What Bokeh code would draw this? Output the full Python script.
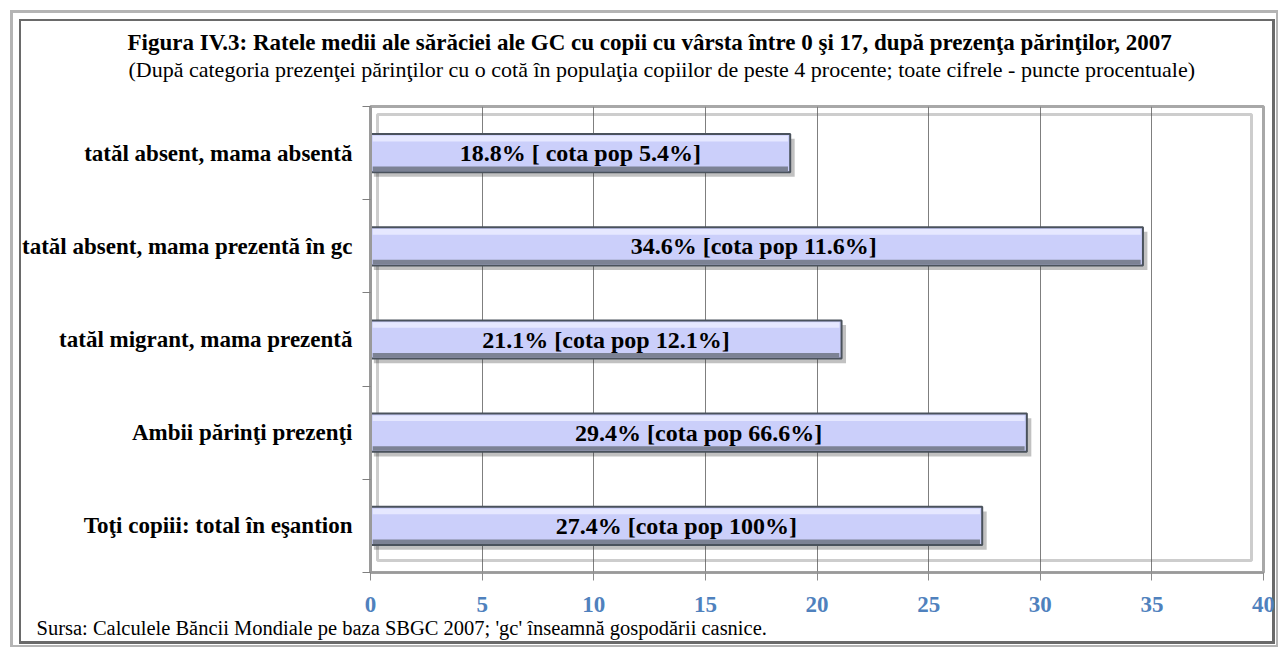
from bokeh.plotting import figure
from bokeh.models import FixedTicker, BoxAnnotation, ColumnDataSource, Title
from bokeh.embed import file_html
from bokeh.resources import INLINE
from bokeh.core.properties import value

# ---------------- data ----------------
categories = [
    "tatăl absent, mama absentă",
    "tatăl absent, mama prezentă în gc",
    "tatăl migrant, mama prezentă",
    "Ambii părinţi prezenţi",
    "Toţi copiii: total în eşantion",
]
rates = [18.8, 34.6, 21.1, 29.4, 27.4]
bar_labels = [
    "18.8% [ cota pop 5.4%]",
    "34.6%  [cota pop 11.6%]",
    "21.1% [cota pop 12.1%]",
    "29.4% [cota pop 66.6%]",
    "27.4% [cota pop 100%]",
]
x_ticks = [0, 5, 10, 15, 20, 25, 30, 35, 40]

title_text = ("Figura IV.3: Ratele medii ale sărăciei ale GC cu copii cu vârsta între 0 şi 17, "
              "după prezenţa părinţilor, 2007")
subtitle_text = ("(După categoria prezenţei părinţilor cu o cotă în populaţia copiilor de peste 4 procente; "
                 "toate cifrele - puncte procentuale)")
source_text = "Sursa: Calculele Băncii Mondiale pe baza SBGC 2007;  'gc' înseamnă gospodării casnice."

FONT = "Liberation Serif"
W, H = 1278, 647
FL, FR, FT, FB = 370, 1263, 106, 572          # frame edges on the canvas
FW, FH = FR - FL, FB - FT
BAR_H = 0.41

n = len(categories)
ypos = [n - 1 - i for i in range(n)]
src = ColumnDataSource(dict(
    y=ypos, rate=rates, mid=[r / 2 for r in rates], label=bar_labels,
    ysh=[y - 0.05 for y in ypos], rsh=[r + 0.2 for r in rates],
    yhi=[y + BAR_H / 2 - 0.05 for y in ypos], ylo=[y - BAR_H / 2 + 0.035 for y in ypos],
    rin=[r - 0.1 for r in rates]))

p = figure(width=W, height=H, output_backend="svg", toolbar_location=None,
           x_range=(0, 40), y_range=(-0.5, n - 0.5),
           min_border_left=FL, min_border_right=W - FR, min_border_top=FT, min_border_bottom=H - FB)
p.background_fill_color = "white"
p.border_fill_color = "white"
p.border_fill_alpha = 0
p.outline_line_color = "#a8a8a8"
p.outline_line_width = 3
# double frame round the whole chart (drawn by the page behind the transparent border)
p.styles = {
    "background-color": "white",
    "box-shadow": ("inset 5px 5px 0 5px white, inset 5.5px 5.5px 0 7.5px #b4b4b4, "
                   "inset 8px 8px 0 11px white, inset 7.5px 7.5px 0 13.5px #6a6a6a"),
}

# grid
p.xgrid.ticker = FixedTicker(ticks=x_ticks)
p.xgrid.grid_line_color = "#7f7f7f"
p.xgrid.grid_line_width = 1
p.ygrid.grid_line_color = None

# x axis
p.xaxis.ticker = FixedTicker(ticks=x_ticks)
p.xaxis.axis_line_color = "#9a9a9a"
p.xaxis.axis_line_width = 2
p.xaxis.major_tick_line_color = "#8c8c8c"
p.xaxis.major_tick_out = 8
p.xaxis.major_tick_in = 0
p.xaxis.minor_tick_line_color = None
p.xaxis.major_label_standoff = 16
p.xaxis.major_label_text_font = FONT
p.xaxis.major_label_text_font_size = "23px"
p.xaxis.major_label_text_font_style = "bold"
p.xaxis.major_label_text_color = "#4f81bd"

# y axis
p.yaxis.ticker = FixedTicker(ticks=ypos, minor_ticks=[y - 0.5 for y in range(n + 1)])
p.yaxis.major_label_overrides = {y: c for y, c in zip(ypos, categories)}
p.yaxis.axis_line_color = "#9a9a9a"
p.yaxis.axis_line_width = 3
p.yaxis.major_tick_line_color = None
p.yaxis.major_tick_out = 0
p.yaxis.major_tick_in = 0
p.yaxis.minor_tick_line_color = "#7f7f7f"
p.yaxis.minor_tick_out = 8
p.yaxis.minor_tick_in = 0
p.yaxis.major_label_standoff = 10
p.yaxis.major_label_text_font = FONT
p.yaxis.major_label_text_font_size = "23px"
p.yaxis.major_label_text_font_style = "bold"
p.yaxis.major_label_text_color = "black"

# inner wall of the plot area (3D look)
p.add_layout(BoxAnnotation(left=7, right=FW - 12, top=FH - 8, bottom=12,
                           left_units="screen", right_units="screen",
                           top_units="screen", bottom_units="screen",
                           fill_alpha=0, line_color="#5a5a5a", line_width=3, level="underlay"))

# bars: shadow, body, bevel bands
p.hbar(y="ysh", left=0.15, right="rsh", height=BAR_H, source=src,
       fill_color="#333333", fill_alpha=0.3, line_color=None)
p.hbar(y="y", left=0, right="rate", height=BAR_H, source=src,
       fill_color="#cbcffa", line_color="#4a525c", line_width=2)
p.hbar(y="yhi", left=0.1, right="rin", height=0.06, source=src,
       fill_color="#e6e8ff", line_color=None)
p.hbar(y="ylo", left=0.1, right="rin", height=0.05, source=src,
       fill_color="#7c8294", line_color=None)

p.text(x="mid", y="y", text="label", source=src, text_font=value(FONT),
       text_font_size="24px", text_font_style="bold", text_color="black",
       text_align="center", text_baseline="middle")

# titles (first added sits closest to the frame) and footer
p.add_layout(Title(text=" ", standoff=21, text_font=FONT, text_font_size="2px"), "above")  # spacer
p.add_layout(Title(text=subtitle_text, align="left", offset=128 - FL, standoff=0,
                   text_font=FONT, text_font_size="22px", text_font_style="normal",
                   text_color="black"), "above")
p.add_layout(Title(text=title_text, align="left", offset=127 - FL, standoff=0,
                   text_font=FONT, text_font_size="23px", text_font_style="bold",
                   text_color="black"), "above")
p.add_layout(Title(text=source_text, align="left", offset=36 - FL, standoff=0,
                   text_font=FONT, text_font_size="20.5px", text_font_style="normal",
                   text_color="black"), "below")

open("out.html", "w").write(file_html(p, INLINE))
